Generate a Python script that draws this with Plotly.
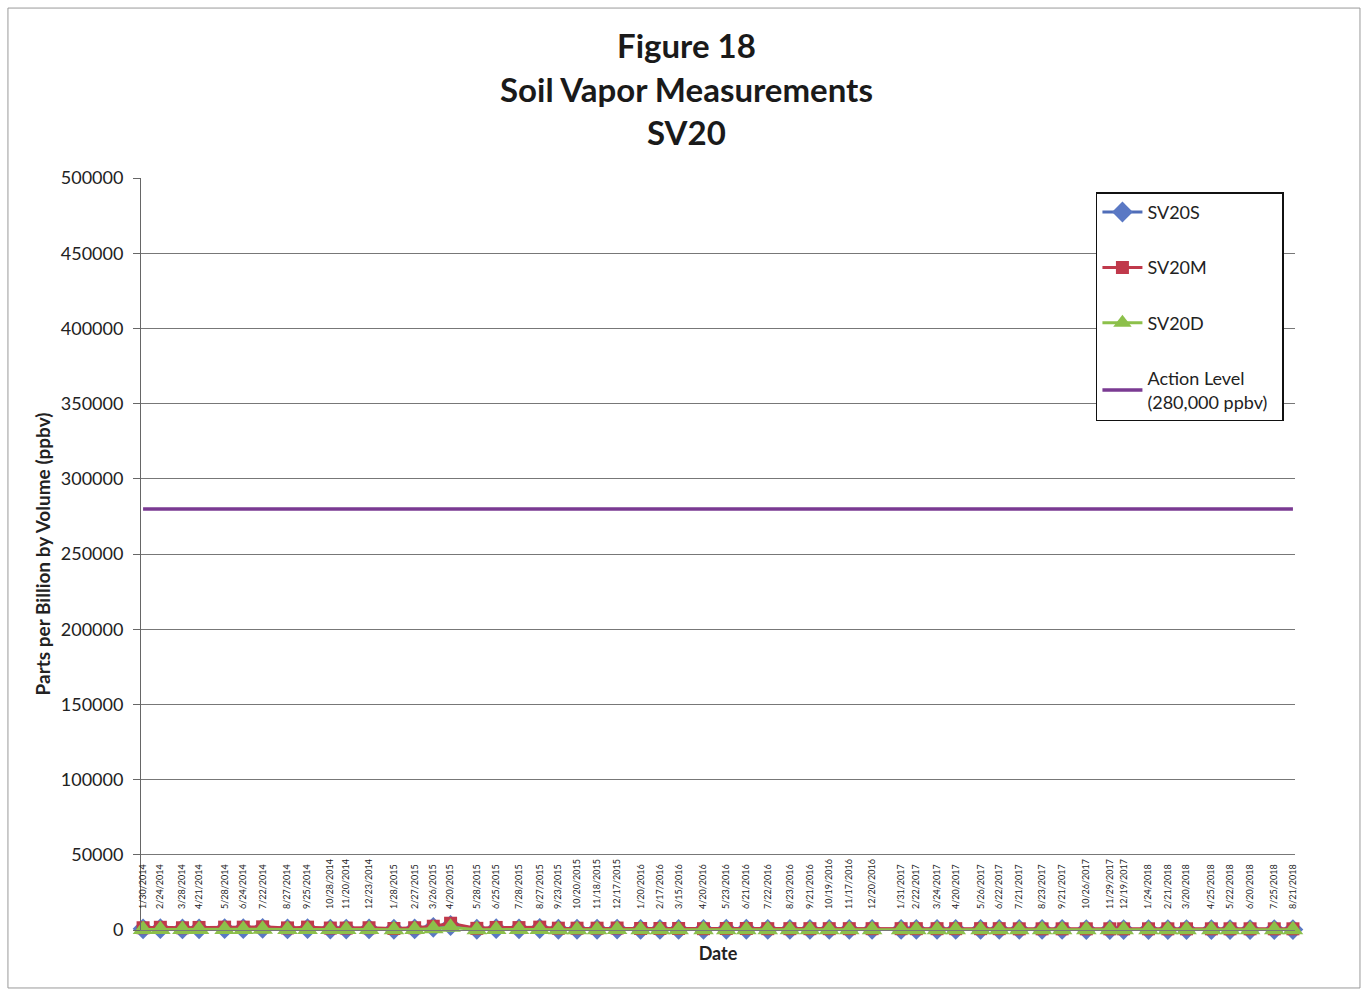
import plotly.graph_objects as go
from datetime import datetime

date_labels = [
    "1/30/2014", "2/24/2014", "3/28/2014", "4/21/2014", "5/28/2014", "6/24/2014", "7/22/2014",
    "8/27/2014", "9/25/2014", "10/28/2014", "11/20/2014", "12/23/2014", "1/28/2015", "2/27/2015",
    "3/26/2015", "4/20/2015", "5/28/2015", "6/25/2015", "7/28/2015", "8/27/2015", "9/23/2015",
    "10/20/2015", "11/18/2015", "12/17/2015", "1/20/2016", "2/17/2016", "3/15/2016", "4/20/2016",
    "5/23/2016", "6/21/2016", "7/22/2016", "8/23/2016", "9/21/2016", "10/19/2016", "11/17/2016",
    "12/20/2016", "1/31/2017", "2/22/2017", "3/24/2017", "4/20/2017", "5/26/2017", "6/22/2017",
    "7/21/2017", "8/23/2017", "9/21/2017", "10/26/2017", "11/29/2017", "12/19/2017", "1/24/2018",
    "2/21/2018", "3/20/2018", "4/25/2018", "5/22/2018", "6/20/2018", "7/25/2018", "8/21/2018",
]
dates = [datetime.strptime(d, "%m/%d/%Y") for d in date_labels]

sv20s = [800, 900, 700, 800, 900, 900, 1100, 700, 900, 600, 600, 700, 500, 700,
         1800, 3000, 500, 900, 800, 1000, 500, 500, 500, 600, 400, 400, 400, 400,
         500, 500, 400, 400, 400, 400, 400, 400, 400, 400, 400, 400, 400, 400,
         400, 400, 400, 300, 300, 300, 300, 300, 300, 300, 300, 300, 300, 300]
sv20m = [1500, 1800, 1500, 1700, 1900, 1900, 2100, 1400, 1900, 1300, 1300, 1500, 1000, 1500,
         2500, 4500, 1100, 1700, 1600, 1900, 1200, 1200, 1200, 1300, 1000, 1000, 1000, 900,
         1000, 1000, 900, 900, 900, 900, 900, 900, 900, 900, 900, 900, 900, 900,
         800, 800, 800, 800, 800, 800, 800, 800, 800, 800, 800, 800, 800, 800]
sv20d = [300, 400, 300, 300, 400, 400, 500, 300, 400, 300, 300, 300, 200, 300,
         900, 1800, 200, 400, 300, 400, 200, 200, 200, 300, 200, 200, 200, 200,
         200, 200, 200, 200, 200, 200, 200, 200, 200, 200, 200, 200, 200, 200,
         200, 200, 200, 200, 200, 200, 200, 200, 200, 200, 200, 200, 200, 200]
action_level = [280000] * len(dates)

title_lines = ["Figure 18", "Soil Vapor Measurements", "SV20"]

FONT = "Lato"
TXT = "#222"

fig = go.Figure()
fig.add_trace(go.Scatter(
    x=dates, y=sv20s, name="SV20S", mode="lines+markers", legendgroup="a", cliponaxis=False,
    line=dict(color="#4F6DB8", width=3),
    marker=dict(symbol="diamond", size=16, color="#5A78C4"),
))
fig.add_trace(go.Scatter(
    x=dates, y=sv20m, name="SV20M", mode="lines+markers", legendgroup="b", cliponaxis=False,
    line=dict(color="#C0394B", width=3),
    marker=dict(symbol="square", size=13, color="#C0394B"),
))
fig.add_trace(go.Scatter(
    x=dates, y=sv20d, name="SV20D", mode="lines+markers", legendgroup="c", cliponaxis=False,
    line=dict(color="#8CC04A", width=3),
    marker=dict(symbol="triangle-up", size=18, color="#8CC04A"),
))
fig.add_trace(go.Scatter(
    x=dates, y=action_level, name="Action Level<br>(280,000 ppbv)\u00a0\u00a0", mode="lines",
    legendgroup="d", line=dict(color="#7A3A92", width=3.5),
))
# invisible carrier for the date-label axis
fig.add_trace(go.Scatter(
    x=dates, y=action_level, xaxis="x2", mode="lines", showlegend=False,
    hoverinfo="skip", line=dict(color="rgba(0,0,0,0)", width=0),
))

annotations = []
for txt, ypix in zip(title_lines, [45, 89, 132]):
    annotations.append(dict(
        text="<b>%s</b>" % txt, xref="paper", yref="paper",
        x=(686 - 141) / 1154, y=(930 - ypix) / 752, xanchor="center", yanchor="middle",
        showarrow=False, font=dict(family=FONT, size=33, color="#1a1a1a"),
    ))

fig.update_layout(
    width=1369, height=989,
    margin=dict(l=141, r=74, t=178, b=59),
    paper_bgcolor="white", plot_bgcolor="white",
    font=dict(family=FONT, color=TXT),
    annotations=annotations,
    showlegend=True,
    legend=dict(
        x=0.8275, y=0.981, xanchor="left", yanchor="top",
        bgcolor="white", bordercolor="#111", borderwidth=1.5,
        font=dict(family=FONT, size=18, color=TXT),
        tracegroupgap=29, itemwidth=40,
    ),
    shapes=[dict(
        type="rect", xref="paper", yref="paper",
        x0=-0.1153, x1=1.0563, y0=-0.0771, y1=1.226,
        line=dict(color="#999", width=1), fillcolor="rgba(0,0,0,0)", layer="below",
    )],
    xaxis=dict(
        type="date", range=["2014-01-27", "2018-08-24"], showticklabels=False,
        showgrid=False, zeroline=False, showline=True, linecolor="#777", linewidth=1,
        ticks="",
        title=dict(text="<b>Date</b>", font=dict(family=FONT, size=18, color=TXT), standoff=17),
    ),
    xaxis2=dict(
        type="date", overlaying="x", matches="x", anchor="free", position=0.028, side="top",
        tickmode="array", tickvals=dates, ticktext=date_labels, tickangle=-90,
        tickfont=dict(family=FONT, size=9, color=TXT),
        showgrid=False, zeroline=False, showline=False, ticks="",
    ),
    yaxis=dict(
        range=[0, 500000], dtick=50000, tickformat="d",
        showgrid=True, gridcolor="#777", gridwidth=1,
        zeroline=False, showline=True, linecolor="#666", linewidth=1,
        ticks="outside", ticklen=7, tickcolor="#666", ticklabelstandoff=6,
        tickfont=dict(family=FONT, size=18, color=TXT),
        title=dict(text="<b>Parts per Billion by Volume (ppbv)</b>",
                   font=dict(family=FONT, size=19, color=TXT), standoff=5),
    ),
)

fig.write_html("out.html", config={"displayModeBar": False},
               post_script="document.body.style.margin='0px';")
